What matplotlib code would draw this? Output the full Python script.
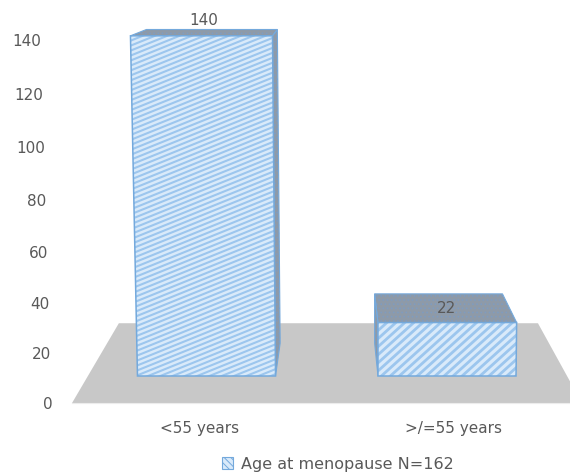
import numpy as np
import matplotlib
matplotlib.use("Agg")
import matplotlib.pyplot as plt
from matplotlib.collections import LineCollection
from matplotlib.patches import Patch, Polygon
from matplotlib.transforms import ScaledTranslation

categories = ["<55 years", ">/=55 years"]
counts = [140, 22]
value_ticks = [0, 20, 40, 60, 80, 100, 120, 140]
series_label = "Age at menopause N=162"

W, H = 570, 473
TEXT = "#595959"
EDGE = "#74a9dc"
FACE = "#d9eafa"
LINE = "#9cc6ee"
SHADE = "#8e9aa8"
DOTS = "#7f9cc0"
FLOOR = "#c8c8c8"
plt.rcParams["font.family"] = "DejaVu Sans"
plt.rcParams["hatch.linewidth"] = 0.7

# Scale of the front plane of the 3-D box: category spacing and value height in pixels.
CAT_PX, VAL_PX = 240.5, 2.43
X0_PX, Y0_PX = 206.5, 376
HALF_W = 0.287
VANISH = (0.534, 173.25)      # point the depth edges converge on
DEPTH = 0.078                 # bar depth as a fraction of the way to it
FLOOR_DEPTH = 0.178
LABEL_SPREAD = -0.0545        # category labels sit a little in front of the floor
SKEW_X0, SKEW = 0.72, 2.07e-4 # verticals fan out slightly with height
FLOOR_V = -11.1
FLOOR_SPAN = (-0.559, 1.561)


def lift(x, v):
    return x + (x - SKEW_X0) * SKEW * v, v


def recede(p, t):
    return p[0] + (VANISH[0] - p[0]) * t, p[1] + (VANISH[1] - p[1]) * t


def to_px(p):
    return X0_PX + p[0] * CAT_PX, Y0_PX - p[1] * VAL_PX


def from_px(q):
    return (q[0] - X0_PX) / CAT_PX, (Y0_PX - q[1]) / VAL_PX


def hatch_lines(ax, poly, angle, period, lw):
    """Diagonal hatch at an arbitrary angle, clipped to the polygon."""
    pts = np.array([to_px(p) for p in poly.get_xy()])
    a = np.radians(angle)
    d = np.array([np.cos(a), -np.sin(a)])
    n = np.array([-d[1], d[0]])
    along, across = pts @ d, pts @ n
    segs = []
    for c in np.arange(across.min(), across.max() + period, period):
        segs.append([from_px(n * c + d * (along.min() - 5)),
                     from_px(n * c + d * (along.max() + 5))])
    lc = LineCollection(segs, colors=LINE, linewidths=lw, zorder=poly.get_zorder() + 0.1)
    ax.add_collection(lc)
    lc.set_clip_path(poly)


def shaded_face(ax, verts):
    """Dark stippled face with a thin blue outline."""
    ax.add_patch(Polygon(verts, closed=True, facecolor=SHADE, edgecolor=DOTS, linewidth=0,
                         hatch="....", zorder=3))
    ax.add_patch(Polygon(verts, closed=True, facecolor="none", edgecolor=EDGE, linewidth=0.8,
                         zorder=3.2))


fig = plt.figure(figsize=(W / 100, H / 100), dpi=100)

# Full-figure axes holding the projected boxes and floor.
ax = fig.add_axes([0, 0, 1, 1])
x_lim = (-X0_PX / CAT_PX, (W - X0_PX) / CAT_PX)
ax.set_xlim(*x_lim)
ax.set_ylim((Y0_PX - H) / VAL_PX, Y0_PX / VAL_PX)
ax.axis("off")

front_l, front_r = (FLOOR_SPAN[0], FLOOR_V), (FLOOR_SPAN[1], FLOOR_V)
ax.add_patch(Polygon([front_l, front_r, recede(front_r, FLOOR_DEPTH), recede(front_l, FLOOR_DEPTH)],
                     closed=True, facecolor=FLOOR, edgecolor="none", zorder=1))

for i, (cat, val) in enumerate(zip(categories, counts)):
    left, right = i - HALF_W, i + HALF_W
    bl, br = lift(left, 0), lift(right, 0)
    tl, tr = lift(left, val), lift(right, val)
    back_tl, back_tr = recede(tl, DEPTH), recede(tr, DEPTH)

    # The side facing the vanishing point is the one that shows.
    if i + HALF_W < VANISH[0] + 0.1:
        shaded_face(ax, [br, tr, back_tr, recede(br, DEPTH)])
    else:
        shaded_face(ax, [bl, tl, back_tl, recede(bl, DEPTH)])
    shaded_face(ax, [tl, tr, back_tr, back_tl])

    front = Polygon([bl, br, tr, tl], closed=True, facecolor=FACE, edgecolor="none", zorder=4)
    ax.add_patch(front)
    if i == 0:
        hatch_lines(ax, front, angle=22, period=4.6, lw=1.5)
    else:
        hatch_lines(ax, front, angle=42, period=6.0, lw=2.0)
    ax.add_patch(Polygon([bl, br, tr, tl], closed=True, facecolor="none", edgecolor=EDGE,
                         linewidth=1.1, zorder=5))

    # Value label: above a tall box, on the top face of a short one.
    cx = (back_tl[0] + back_tr[0]) / 2
    if i == 0:
        ax.annotate(str(val), (cx, back_tl[1]), xytext=(-6, 1), textcoords="offset points",
                    ha="center", va="bottom", color=TEXT, fontsize=11, zorder=6)
    else:
        ax.annotate(str(val), (cx, (tl[1] + back_tl[1]) / 2), xytext=(6, 0),
                    textcoords="offset points", ha="center", va="center",
                    color=TEXT, fontsize=11, zorder=6)

# Separate axes for the tick labels; the wall scale grows slightly with height.
A, B = 2.463, 0.00093
scale_ax = fig.add_axes([72 / W, (H - 403) / H, (W - 72) / W, 363 / H])
scale_ax.patch.set_alpha(0)
scale_ax.set_yscale(
    "function",
    functions=(lambda v: A * np.asarray(v) + B * np.asarray(v) ** 2,
               lambda p: (-A + np.sqrt(np.maximum(A * A + 4 * B * np.asarray(p), 0))) / (2 * B)),
)
scale_ax.set_ylim(0, 140)
scale_ax.set_xlim((72 - X0_PX) / CAT_PX, x_lim[1])
scale_ax.set_yticks(value_ticks)
scale_ax.set_yticklabels([str(v) for v in value_ticks])
scale_ax.set_xticks([recede((i, 0), LABEL_SPREAD)[0] for i in range(len(categories))])
scale_ax.set_xticklabels(categories)
scale_ax.minorticks_off()
scale_ax.tick_params(axis="y", length=0, pad=14, labelsize=11, labelcolor=TEXT)
scale_ax.tick_params(axis="x", length=0, pad=13, labelsize=11, labelcolor=TEXT)
for spine in scale_ax.spines.values():
    spine.set_visible(False)
scale_ax.spines["bottom"].set_visible(True)
scale_ax.spines["bottom"].set_color("#ececec")

# The value labels lean left with height, following the wall.
for v, label in zip(value_ticks, scale_ax.get_yticklabels()):
    shift = ScaledTranslation(-11 * v / 140 / 100, 0, fig.dpi_scale_trans)
    label.set_transform(label.get_transform() + shift)

handle = Patch(facecolor=FACE, edgecolor=EDGE, hatch="\\\\\\\\\\", linewidth=0.8, label=series_label)
fig.legend(handles=[handle], loc="center", bbox_to_anchor=(338 / W, (H - 464) / H), frameon=False,
           fontsize=11.5, labelcolor=TEXT, handlelength=0.65, handleheight=0.7, handletextpad=0.5,
           borderpad=0)

fig.savefig("out.png", dpi=100, facecolor="white")
